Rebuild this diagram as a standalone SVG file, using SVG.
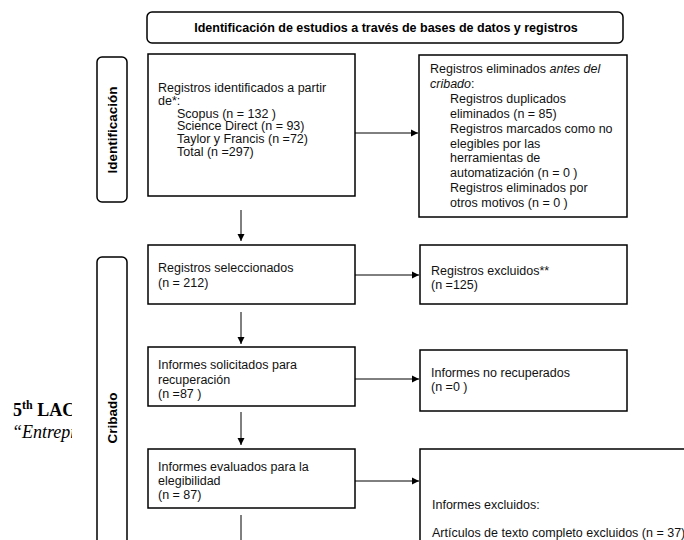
<svg xmlns="http://www.w3.org/2000/svg" width="684" height="540" viewBox="0 0 684 540">
<defs>
<marker id="ah" markerWidth="8" markerHeight="8" refX="7" refY="4" orient="auto" markerUnits="userSpaceOnUse">
<path d="M0,0.5 L7,4 L0,7.5 Z" fill="#000"/>
</marker>
<clipPath id="pg"><rect x="0" y="380" width="72" height="70"/></clipPath>
<style>
.box{fill:#fff;stroke:#000;stroke-width:1.5}
.side{fill:#fff;stroke:#000;stroke-width:1.5}
.t{font-family:"Liberation Sans",Arial,sans-serif;font-size:12.5px;fill:#111}
.b{font-family:"Liberation Sans",Arial,sans-serif;font-size:12.5px;font-weight:bold;fill:#000}
.sl{font-family:"Liberation Sans",Arial,sans-serif;font-size:13.5px;font-weight:bold;fill:#000}
.c{stroke:#000;stroke-width:1;fill:none}
.pg{font-family:"Liberation Serif","Times New Roman",serif;font-size:18px;fill:#000}
</style>
</defs>
<rect width="684" height="540" fill="#fff"/>
<g clip-path="url(#pg)">
<text class="pg" x="13" y="416" font-weight="bold">5<tspan font-size="12" dy="-7">th</tspan><tspan dy="7"> LACCEI</tspan></text>
<text class="pg" x="12" y="438" font-style="italic">“Entrepreneurship</text>
</g>
<g id="title">
<rect class="side" x="147" y="12" width="476" height="31" rx="5"/>
<text class="b" x="386" y="32" text-anchor="middle">Identificación de estudios a través de bases de datos y registros</text>
</g>
<g id="side-identificacion">
<rect class="side" x="97" y="57" width="30" height="145" rx="5"/>
<text class="sl" transform="translate(117,130) rotate(-90)" text-anchor="middle">Identificación</text>
</g>
<g id="side-cribado">
<rect class="side" x="97" y="257" width="30" height="300" rx="5"/>
<text class="sl" transform="translate(117,418) rotate(-90)" text-anchor="middle">Cribado</text>
</g>
<g id="n-identificados">
<rect class="box" x="148" y="54" width="207" height="142"/>
<text class="t"><tspan x="158" y="92">Registros identificados a partir</tspan><tspan x="158" y="104.8">de*:</tspan><tspan x="177" y="117.6">Scopus (n = 132 )</tspan><tspan x="177" y="130.4">Science Direct (n = 93)</tspan><tspan x="177" y="143.2">Taylor y Francis (n =72)</tspan><tspan x="177" y="156">Total (n =297)</tspan></text>
</g>
<g id="n-eliminados">
<rect class="box" x="419" y="55" width="208" height="162"/>
<text class="t"><tspan x="430" y="73">Registros eliminados <tspan font-style="italic">antes del</tspan></tspan><tspan x="430" y="87.9" font-style="italic">cribado</tspan><tspan>:</tspan><tspan x="450" y="102.8">Registros duplicados</tspan><tspan x="450" y="117.7">eliminados (n = 85)</tspan><tspan x="450" y="132.6">Registros marcados como no</tspan><tspan x="450" y="147.5">elegibles por las</tspan><tspan x="450" y="162.4">herramientas de</tspan><tspan x="450" y="177.3">automatización (n = 0 )</tspan><tspan x="450" y="192.2">Registros eliminados por</tspan><tspan x="450" y="207.1">otros motivos (n = 0 )</tspan></text>
</g>
<g id="n-seleccionados">
<rect class="box" x="148" y="245" width="207" height="59"/>
<text class="t"><tspan x="158" y="272">Registros seleccionados</tspan><tspan x="158" y="287">(n = 212)</tspan></text>
</g>
<g id="n-excluidos">
<rect class="box" x="420" y="245" width="207" height="59"/>
<text class="t"><tspan x="431" y="275">Registros excluidos**</tspan><tspan x="431" y="289">(n =125)</tspan></text>
</g>
<g id="n-solicitados">
<rect class="box" x="148" y="347" width="207" height="59"/>
<text class="t"><tspan x="158" y="369">Informes solicitados para</tspan><tspan x="158" y="383.5">recuperación</tspan><tspan x="158" y="398">(n =87 )</tspan></text>
</g>
<g id="n-norecuperados">
<rect class="box" x="420" y="350" width="207" height="61"/>
<text class="t"><tspan x="431" y="377">Informes no recuperados</tspan><tspan x="431" y="391">(n =0 )</tspan></text>
</g>
<g id="n-evaluados">
<rect class="box" x="148" y="449" width="207" height="59"/>
<text class="t"><tspan x="158" y="471">Informes evaluados para la</tspan><tspan x="158" y="485">elegibilidad</tspan><tspan x="158" y="499">(n = 87)</tspan></text>
</g>
<g id="n-informesexcluidos">
<rect class="box" x="420" y="449" width="280" height="120"/>
<text class="t"><tspan x="432" y="509">Informes excluidos:</tspan><tspan x="432" y="537">Artículos de texto completo excluidos (n = 37)</tspan></text>
</g>
<g id="connectors">
<line class="c" x1="355" y1="133" x2="418" y2="133" marker-end="url(#ah)"/>
<line class="c" x1="241" y1="210" x2="241" y2="241" marker-end="url(#ah)"/>
<line class="c" x1="355" y1="275" x2="419" y2="275" marker-end="url(#ah)"/>
<line class="c" x1="241" y1="312" x2="241" y2="344" marker-end="url(#ah)"/>
<line class="c" x1="355" y1="379" x2="419" y2="379" marker-end="url(#ah)"/>
<line class="c" x1="241" y1="412" x2="241" y2="445" marker-end="url(#ah)"/>
<line class="c" x1="355" y1="481" x2="419" y2="481" marker-end="url(#ah)"/>
<line class="c" x1="241" y1="515" x2="241" y2="540"/>
</g>
</svg>
